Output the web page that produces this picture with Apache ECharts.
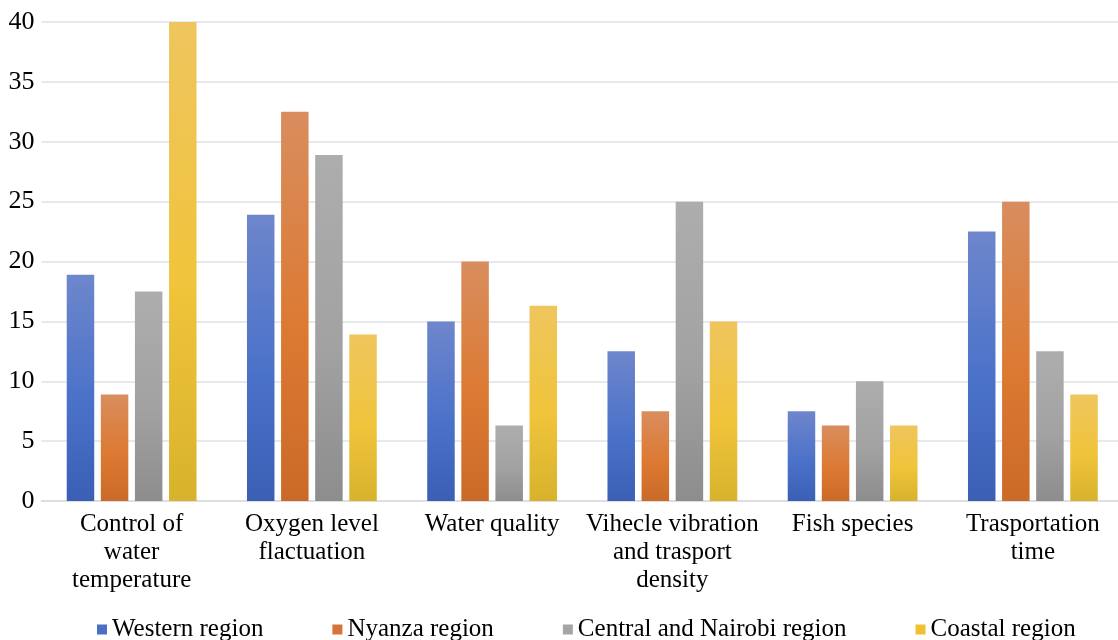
<!DOCTYPE html>
<html>
<head>
<meta charset="utf-8">
<script src="https://cdn.jsdelivr.net/npm/echarts@6/dist/echarts.min.js"></script>
<style>
  html, body { margin: 0; padding: 0; background: #ffffff; }
  #chart { width: 1118px; height: 640px; }
</style>
</head>
<body>
<div id="chart"></div>
<script>
const categories = [
  'Control of\nwater\ntemperature',
  'Oxygen level\nflactuation',
  'Water quality',
  'Vihecle vibration\nand trasport\ndensity',
  'Fish species',
  'Trasportation\ntime'
];
const western = [18.9, 23.9, 15, 12.5, 7.5, 22.5];
const nyanza = [8.9, 32.5, 20, 7.5, 6.3, 25];
const central = [17.5, 28.9, 6.3, 25, 10, 12.5];
const coastal = [40, 13.9, 16.3, 15, 6.3, 8.9];
const yTicks = { min: 0, max: 40, interval: 5 };

const FONT = '"Liberation Serif", "Times New Roman", serif';

function grad(top, mid, bottom) {
  return new echarts.graphic.LinearGradient(0, 0, 0, 1, [
    { offset: 0, color: top },
    { offset: 0.55, color: mid },
    { offset: 1, color: bottom }
  ]);
}

const palette = [
  { name: 'Western region', data: western, solid: '#4a6fc4', fill: grad('#6e86cc', '#4b72c9', '#3a5fb5') },
  { name: 'Nyanza region', data: nyanza, solid: '#d6733a', fill: grad('#d98d5e', '#dc7a33', '#cb6a28') },
  { name: 'Central and Nairobi region', data: central, solid: '#a5a5a5', fill: grad('#adadad', '#a2a2a2', '#8d8d8d') },
  { name: 'Coastal region', data: coastal, solid: '#efc132', fill: grad('#efc55e', '#f0c43b', '#d8b22c') }
];

const chart = echarts.init(document.getElementById('chart'), null, { renderer: 'canvas' });

chart.setOption({
  animation: false,
  backgroundColor: '#ffffff',
  textStyle: { fontFamily: FONT },
  grid: {
    left: 41.5, width: 1081.5, top: 22, bottom: 139,
    containLabel: false,
    outerBoundsMode: 'none'
  },
  legend: {
    top: 612,
    left: 92,
    itemWidth: 10,
    itemHeight: 10,
    itemGap: 69,
    icon: 'rect',
    textStyle: { fontFamily: FONT, fontSize: 25, color: '#000000' },
    data: palette.map(p => ({ name: p.name, itemStyle: { color: p.solid } }))
  },
  xAxis: {
    type: 'category',
    data: categories,
    axisLine: { show: true, lineStyle: { color: '#d9dae0', width: 1.5 } },
    axisTick: { show: false },
    axisLabel: {
      interval: 0,
      margin: 9,
      fontFamily: FONT,
      fontSize: 25,
      lineHeight: 28,
      color: '#000000'
    }
  },
  yAxis: {
    type: 'value',
    min: yTicks.min,
    max: yTicks.max,
    interval: yTicks.interval,
    axisLine: { show: false },
    axisTick: { show: false },
    splitLine: { lineStyle: { color: '#e1e2e8', width: 1.5 } },
    axisLabel: {
      margin: 7,
      fontFamily: FONT,
      fontSize: 26,
      color: '#000000'
    }
  },
  series: palette.map(p => ({
    name: p.name,
    type: 'bar',
    data: p.data,
    barWidth: 27.5,
    barGap: '24%',
    itemStyle: { color: p.fill }
  }))
});
</script>
</body>
</html>
